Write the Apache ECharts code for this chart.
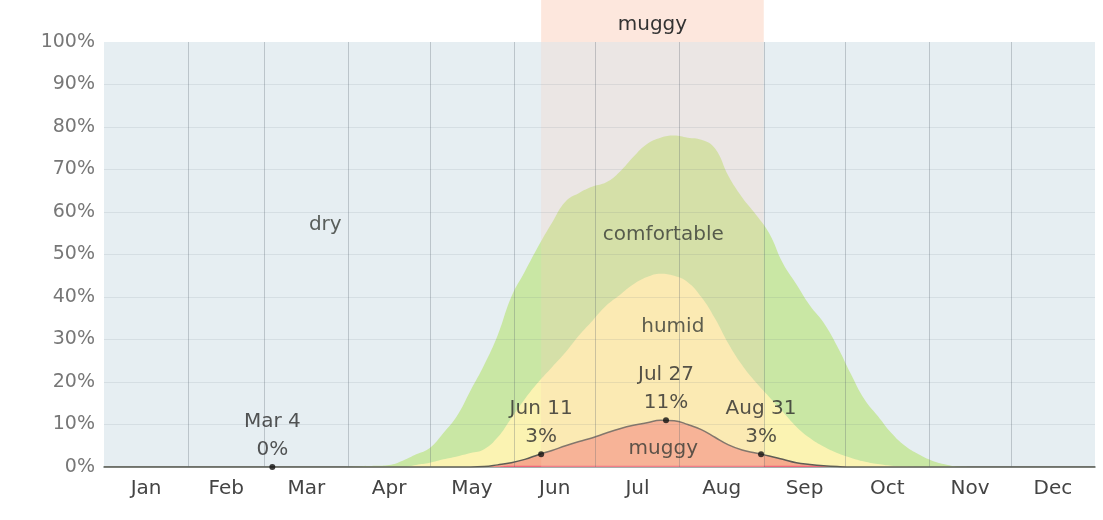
<!DOCTYPE html>
<html>
<head>
<meta charset="utf-8">
<script src="https://cdn.jsdelivr.net/npm/echarts@6/dist/echarts.min.js"></script>
<style>
html,body{margin:0;padding:0;background:#fff;}
#chart{width:1103px;height:520px;}
</style>
</head>
<body>
<div id="chart"></div>
<script>
// Day of year (Jan 1 = 0)
const days = [0,85,95,100,105,110,115,120,125,130,135,140,145,150,155,160,165,170,175,180,185,190,195,200,205,210,215,220,225,230,235,240,245,250,255,260,265,270,275,280,285,290,295,300,305,310,315,320,365];
// Percent of time in each humidity comfort level (remainder = dry)
const oppressive  = [0,0,0,0,0,0,0,0,0,0,0,0,0.1,0.3,0.3,0.3,0.3,0.3,0.3,0.3,0.3,0.3,0.3,0.3,0.3,0.3,0.3,0.3,0.3,0.3,0.3,0.3,0.3,0.3,0.3,0.3,0.2,0.1,0,0,0,0,0,0,0,0,0,0,0];
const muggy       = [0,0,0,0,0,0,0,0,0,0,0,0.1,0.4,0.7,1.5,2.6,3.6,4.7,5.7,6.6,7.7,8.7,9.5,10.1,10.7,10.6,9.7,8.5,6.7,4.9,3.7,3.0,2.3,1.5,0.7,0.3,0.1,0,0,0,0,0,0,0,0,0,0,0,0];
const humid       = [0,0,0,0,0,0,0.5,1,1.8,2.5,3.3,4.1,6.5,10.5,14.2,17.1,19.6,22,25,27.6,30,31.5,33.2,34.3,34.5,34.1,33.5,31.2,28,23.8,20,16.7,13.9,11.2,8.5,6.2,4.5,3.2,2.2,1.3,0.7,0.3,0.1,0,0,0,0,0,0];
const comfortable = [0,0,0.2,0.3,0.5,1.5,2.5,3.5,6.2,9.5,14.7,19.8,24,28.5,30,32,34,35.5,33.5,31.5,29,29,30,31.3,32,33,34,37,40,39.5,39.5,39.5,38.5,35,33.5,31.2,29.2,25.2,19.8,14.7,11.3,7.7,4.9,3,1.5,0.6,0.1,0,0];

const months = ['Jan','Feb','Mar','Apr','May','Jun','Jul','Aug','Sep','Oct','Nov','Dec'];
const monthStarts = [0,31,59,90,120,151,181,212,243,273,304,334,365];
const yTicks = [0,10,20,30,40,50,60,70,80,90,100];

// Muggy season: Jun 11 to Aug 31
const muggySeason = [161, 243];
// Annotated points
const annotDays   = [62, 161, 207, 242];
const annotValues = [0, 3, 11, 3];
const annotNames  = ['Mar 4', 'Jun 11', 'Jul 27', 'Aug 31'];

const monthMid = months.map((m,i)=> (monthStarts[i]+monthStarts[i+1])/2);
// stacked tops (cumulative from the bottom band)
const stackTop = (...arrs) => days.map((d,i)=>[d, arrs.reduce((s,a)=>s+a[i],0)]);
const FONT = '"DejaVu Sans", Verdana, sans-serif';

const areaSeries = (name, data, color, line) => ({
  name, type:'line', data, smooth:0.45, showSymbol:false, silent:true, z:2,
  lineStyle: line || {width:0}, areaStyle:{color, opacity:1, origin:'start'}
});

const chart = echarts.init(document.getElementById('chart'), null, {renderer:'canvas'});
chart.setOption({
  animation: false,
  backgroundColor: '#ffffff',
  textStyle: {fontFamily: FONT},
  grid: [
    {left:104, right:8, top:42, bottom:53, show:true, backgroundColor:'#e6eef2', borderWidth:0},
    {left:104, right:8, top:0, height:42, show:false}
  ],
  xAxis: [
    {
      type:'value', min:0, max:365, gridIndex:0,
      axisLine:{show:true, onZero:false, lineStyle:{color:'#a6aeab', width:2}},
      axisTick:{show:false},
      splitLine:{show:false},
      axisLabel:{
        customValues: monthMid,
        formatter: v => { const i = monthMid.indexOf(v); return i>=0 ? months[i] : ''; },
        color:'#444', fontSize:20, margin:12, fontFamily: FONT
      }
    },
    {type:'value', min:0, max:365, gridIndex:1, show:false}
  ],
  yAxis: [
    {
      type:'value', min:0, max:100, interval:10, gridIndex:0,
      axisLine:{show:false}, axisTick:{show:false},
      splitLine:{show:false},
      axisLabel:{formatter:'{value}%', color:'#777', fontSize:19, margin:9, fontFamily: FONT}
    },
    {type:'value', min:0, max:1, gridIndex:1, show:false}
  ],
  series: [
    Object.assign(areaSeries('comfortable', stackTop(oppressive, muggy, humid, comfortable), '#c9e7a4'), {
      markArea:{
        silent:true, z:3,
        itemStyle:{color:'rgba(250,205,185,0.24)'},
        data:[[{xAxis:muggySeason[0]},{xAxis:muggySeason[1]}]]
      }
    }),
    areaSeries('humid', stackTop(oppressive, muggy, humid), '#fbf3b2'),
    areaSeries('muggy', stackTop(oppressive, muggy), '#f6ab8d', {width:1.5, color:'#5e5d55'}),
    areaSeries('oppressive', stackTop(oppressive), '#f0667a'),
    {
      name:'grid-lines', type:'line', data:[], silent:true, z:4,
      markLine:{
        silent:true, symbol:['none','none'], z:4, animation:false,
        label:{show:false},
        data: [
          ...monthStarts.slice(1,12).map(d=>({xAxis:d, lineStyle:{color:'rgba(90,100,110,0.3)', width:1, type:'solid'}})),
          ...yTicks.slice(1,10).map(v=>({yAxis:v, lineStyle:{color:'rgba(90,110,120,0.12)', width:1, type:'solid'}}))
        ]
      }
    },
    {
      name:'header', type:'line', xAxisIndex:1, yAxisIndex:1, data:[], silent:true,
      markArea:{
        silent:true,
        itemStyle:{color:'#fde7dd'},
        label:{show:true, position:'inside', color:'#333', fontSize:20, fontFamily:FONT, offset:[0,4]},
        data:[[{name:'muggy', xAxis:muggySeason[0]},{xAxis:muggySeason[1]}]]
      }
    },
    {
      name:'points', type:'scatter', z:10, silent:true,
      symbol:'circle', symbolSize:6, itemStyle:{color:'#111'},
      data: annotDays.map((d,i)=>({value:[d, annotValues[i]], name:annotNames[i]})),
      label:{
        show:true, position:'top', distance:0, color:'#2a2a2a', fontSize:20, lineHeight:28,
        fontFamily:FONT, align:'center',
        formatter: p => p.name + '\n' + p.value[1] + '%'
      }
    },
    {
      name:'area-labels', type:'scatter', z:10, silent:true,
      symbolSize:0,
      data:[
        {value:[81.5,57], name:'dry'},
        {value:[206,54.6], name:'comfortable'},
        {value:[209.5,33], name:'humid'},
        {value:[206,4.4], name:'muggy'}
      ],
      label:{show:true, position:'inside', formatter:'{b}', color:'#363a34', fontSize:20, fontFamily:FONT}
    }
  ]
});
</script>
</body>
</html>
